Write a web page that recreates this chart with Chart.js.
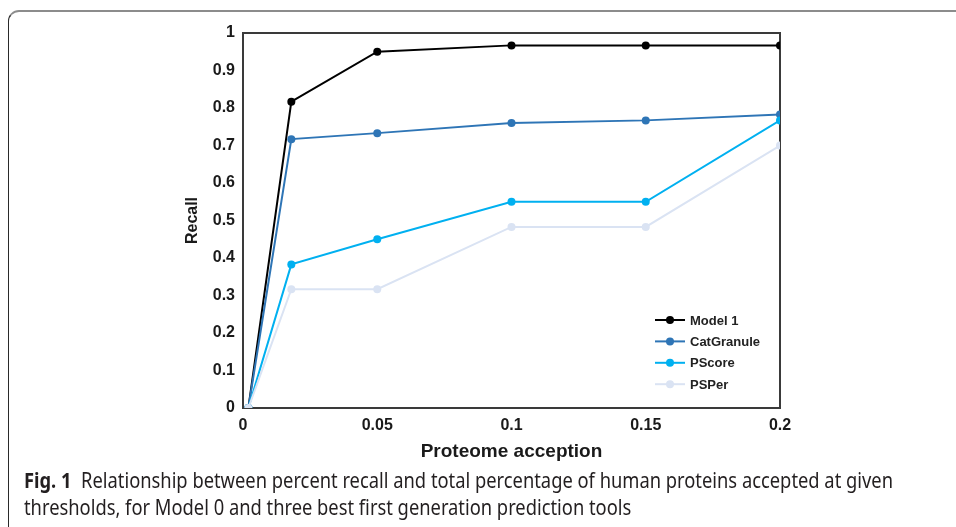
<!DOCTYPE html>
<html>
<head>
<meta charset="utf-8">
<script src="https://cdn.jsdelivr.net/npm/chart.js@4/dist/chart.umd.min.js"></script>
<style>
  html, body { margin: 0; padding: 0; background: #fff; width: 956px; height: 527px; overflow: hidden; }
  #frame { position: absolute; left: 8px; top: 10px; width: 1100px; height: 700px;
           border-top: 2px solid #8c8c8c; border-left: 1.5px solid #2a2a2a; border-top-left-radius: 11px; box-sizing: border-box; }
  #wrap { position: absolute; left: 0; top: 0; width: 956px; height: 470px; }
  .cap { position: absolute; left: 24px; white-space: nowrap; font-family: "Noto Sans", "Open Sans", sans-serif;
         font-size: 21px; color: #231f20; transform-origin: 0 50%; line-height: 1; }
  .cap b { font-weight: 700; }
</style>
</head>
<body>
<div id="frame"></div>
<div id="wrap"><canvas id="c" width="956" height="470"></canvas></div>
<div class="cap" id="cap1" style="top:470px;"><b>Fig. 1</b>&nbsp; Relationship between percent recall and total percentage of human proteins accepted at given</div>
<div class="cap" id="cap2" style="top:497px;">thresholds, for Model 0 and three best first generation prediction tools</div>
<script>
// ---- data ----
const xValues = [0.002, 0.018, 0.05, 0.1, 0.15, 0.2];
const seriesNames = ["Model 1", "CatGranule", "PScore", "PSPer"];
const model1 = [0, 0.817, 0.95, 0.967, 0.967, 0.967];
const catGranule = [0, 0.717, 0.733, 0.76, 0.767, 0.783];
const pScore = [0, 0.383, 0.45, 0.55, 0.55, 0.767];
const psPer = [0, 0.317, 0.317, 0.483, 0.483, 0.7];
const xTickLabels = ["0", "0.05", "0.1", "0.15", "0.2"];
const yTickLabels = ["0", "0.1", "0.2", "0.3", "0.4", "0.5", "0.6", "0.7", "0.8", "0.9", "1"];
// ---------------

const colors = ["#000000", "#2E75B6", "#00B0F0", "#DAE3F3"];
const allSeries = [model1, catGranule, pScore, psPer];

const datasets = allSeries.map((s, i) => ({
  label: seriesNames[i],
  data: s.map((v, j) => ({ x: xValues[j], y: v })),
  borderColor: colors[i],
  backgroundColor: colors[i],
  pointBackgroundColor: colors[i],
  pointBorderColor: colors[i],
  borderWidth: 2,
  pointRadius: 4,
  pointBorderWidth: 0,
  tension: 0,
  order: allSeries.length - i
}));

const frameAndLegend = {
  id: 'frameAndLegend',
  beforeDatasetsDraw(chart) {
    const { ctx, chartArea: a } = chart;
    ctx.save();
    ctx.strokeStyle = '#3a3a3a';
    ctx.lineWidth = 2;
    ctx.strokeRect(a.left, a.top, a.right - a.left, a.bottom - a.top);
    ctx.restore();
  },
  afterDatasetsDraw(chart) {
    const { ctx, chartArea: a } = chart;
    ctx.save();
    const x0 = a.right - 125, x1 = a.right - 95, tx = a.right - 90;
    chart.data.datasets.forEach((d, i) => {
      const y = a.bottom - 88 + i * 21.4;
      ctx.strokeStyle = d.borderColor;
      ctx.lineWidth = 2;
      ctx.beginPath(); ctx.moveTo(x0, y); ctx.lineTo(x1, y); ctx.stroke();
      ctx.fillStyle = d.borderColor;
      ctx.beginPath(); ctx.arc((x0 + x1) / 2, y, 4, 0, Math.PI * 2); ctx.fill();
      ctx.fillStyle = '#222';
      ctx.font = 'bold 13px "Liberation Sans", Arial, sans-serif';
      ctx.textBaseline = 'middle';
      ctx.textAlign = 'left';
      ctx.fillText(d.label, tx, y + 1);
    });
    ctx.restore();
  }
};

const tickFont = { family: '"Liberation Sans", Arial, sans-serif', size: 16, weight: 'bold' };

new Chart(document.getElementById('c'), {
  type: 'line',
  data: { datasets },
  options: {
    responsive: false,
    animation: false,
    devicePixelRatio: 1,
    layout: { padding: { left: 170, right: 176, top: 33, bottom: 0 } },
    plugins: { legend: { display: false }, tooltip: { enabled: false } },
    scales: {
      x: {
        type: 'linear', min: 0, max: 0.2,
        grid: { display: false, drawTicks: false },
        border: { display: false },
        ticks: { stepSize: 0.05, color: '#1a1a1a', font: tickFont, padding: 8, maxRotation: 0,
                 callback: (v) => { const i = Math.round(v / 0.05); return xTickLabels[i]; } },
        title: { display: true, text: 'Proteome acception', color: '#1a1a1a',
                 font: { family: '"Liberation Sans", Arial, sans-serif', size: 19, weight: 'bold' },
                 padding: { top: 0, bottom: 7 } },
        afterFit(s) { s.height = 62; }
      },
      y: {
        type: 'linear', min: 0, max: 1,
        grid: { display: false, drawTicks: false },
        border: { display: false },
        ticks: { stepSize: 0.1, color: '#1a1a1a', font: tickFont, padding: 8,
                 callback: (v) => yTickLabels[Math.round(v * 10)] },
        title: { display: true, text: 'Recall', color: '#1a1a1a',
                 font: { family: '"Liberation Sans", Arial, sans-serif', size: 16, weight: 'bold' },
                 padding: { top: 13, bottom: 0 } },
        afterFit(s) { s.width = 73; }
      }
    }
  },
  plugins: [frameAndLegend]
});

// fit caption width
(function () {
  const c1 = document.getElementById('cap1'), c2 = document.getElementById('cap2');
  const w = c1.getBoundingClientRect().width;
  const sc = 869 / w;
  c1.style.transform = 'scaleX(' + sc + ')';
  c2.style.transform = 'scaleX(' + sc + ')';
})();
</script>
</body>
</html>
